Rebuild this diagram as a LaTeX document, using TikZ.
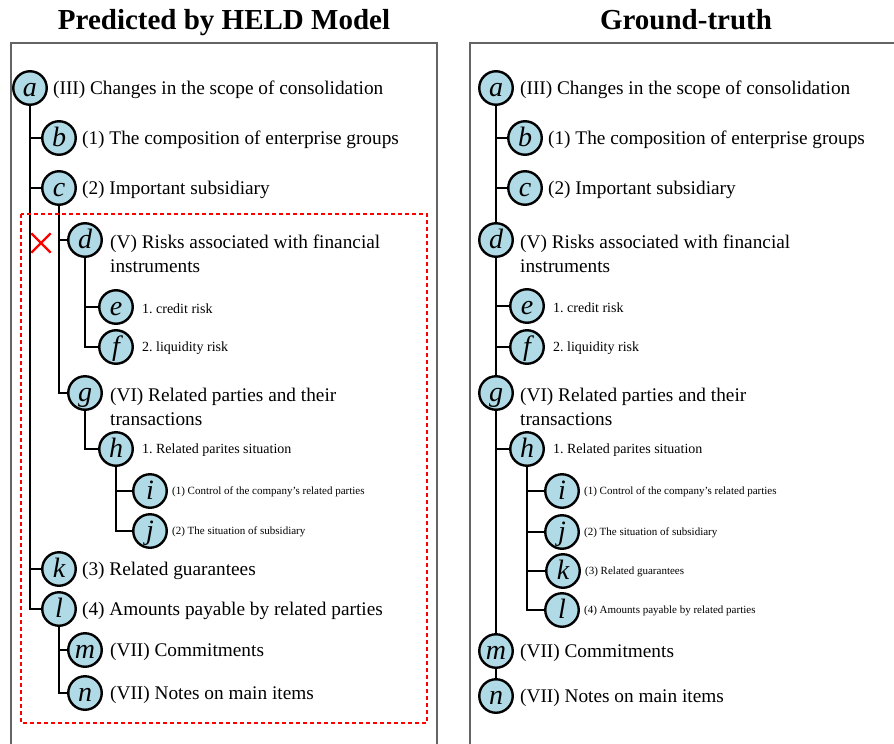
\documentclass[tikz,border=0pt]{standalone}
\usepackage{fontspec}
\setmainfont{Liberation Serif}
\usetikzlibrary{positioning,shapes.misc}
\definecolor{nodeblue}{RGB}{176,219,230}
\definecolor{panelgray}{RGB}{100,100,100}
\frenchspacing

\begin{document}
\begin{tikzpicture}[x=1pt,y=-1pt,% pixel grid of the reference, y going down
    sec/.style={circle,draw=black,line width=2.4pt,fill=nodeblue,
      minimum size=33.5pt,inner sep=0pt,
      font=\fontsize{28}{28}\selectfont\itshape,
      text height=19pt,text depth=2pt},	% same baseline for every letter
    bigtxt/.style={inner sep=0pt,align=left,yshift=-2pt,font=\fontsize{19.3}{24}\selectfont},
    midtxt/.style={inner sep=0pt,yshift=-1.5pt,font=\fontsize{14}{16}\selectfont},
    smalltxt/.style={inner sep=0pt,yshift=-1pt,font=\fontsize{11}{13}\selectfont},
    title/.style={anchor=base,font=\fontsize{29}{29}\selectfont\bfseries},
    tree/.style={line width=2.6pt},
    panel/.style={draw=panelgray,line width=2pt}
  ]
  \clip (0,0) rectangle (894,744);
  \draw[panel] (11,43) rectangle (437,770);
  \draw[panel] (470,43) rectangle (902,770);
  \node[title] (tleft) at (224,29) {Predicted by HELD Model};
  \node[title] (tright) at (686,29) {Ground-truth};

  % predicted tree
  \node[sec] (La) at (30,88) {a};
  \node[sec] (Lb) at (59,138) {b};
  \node[sec] (Lc) at (59,188) {c};
  \node[sec] (Ld) at (85,240) {d};
  \node[sec] (Le) at (116,307) {e};
  \node[sec] (Lf) at (116,347) {f};
  \node[sec] (Lg) at (85,393) {g};
  \node[sec] (Lh) at (116,449) {h};
  \node[sec] (Li) at (150,491) {i};
  \node[sec] (Lj) at (150,531) {j};
  \node[sec] (Lk) at (59,569) {k};
  \node[sec] (Ll) at (59,609) {l};
  \node[sec] (Lm) at (85,650) {m};
  \node[sec] (Ln) at (85,693) {n};

  \node[bigtxt,right=5pt of La] (La-t) {(III) Changes in the scope of consolidation};
  \node[bigtxt,right=5pt of Lb] (Lb-t) {(1) The composition of enterprise groups};
  \node[bigtxt,right=5pt of Lc] (Lc-t) {(2) Important subsidiary};
  \node[bigtxt,right=7pt of Ld,yshift=-12pt] (Ld-t) {(V) Risks associated with financial\\instruments};
  \node[midtxt,right=8pt of Le] (Le-t) {1. credit risk};
  \node[midtxt,right=8pt of Lf] (Lf-t) {2. liquidity risk};
  \node[bigtxt,right=7pt of Lg,yshift=-12pt] (Lg-t) {(VI) Related parties and their\\transactions};
  \node[midtxt,right=8pt of Lh] (Lh-t) {1. Related parites situation};
  \node[smalltxt,right=4pt of Li] (Li-t) {(1) Control of the company's related parties};
  \node[smalltxt,right=4pt of Lj] (Lj-t) {(2) The situation of subsidiary};
  \node[bigtxt,right=5pt of Lk] (Lk-t) {(3) Related guarantees};
  \node[bigtxt,right=5pt of Ll] (Ll-t) {(4) Amounts payable by related parties};
  \node[bigtxt,right=7pt of Lm] (Lm-t) {(VII) Commitments};
  \node[bigtxt,right=7pt of Ln] (Ln-t) {(VII) Notes on main items};

  \draw[tree] (La.south) |- (Ll.west)
    (La.south |- Lb) -- (Lb.west) (La.south |- Lc) -- (Lc.west) (La.south |- Lk) -- (Lk.west);
  \draw[tree] (Lc.south) |- (Lg.west) (Lc.south |- Ld) -- (Ld.west);
  \draw[tree] (Ld.south) |- (Lf.west) (Ld.south |- Le) -- (Le.west);
  \draw[tree] (Lg.south) |- (Lh.west);
  \draw[tree] (Lh.south) |- (Lj.west) (Lh.south |- Li) -- (Li.west);
  \draw[tree] (Ll.south) |- (Ln.west) (Ll.south |- Lm) -- (Lm.west);

  % wrongly nested part
  \draw[red,line width=1.8pt,dash pattern=on 4pt off 3pt] (21,214) rectangle (427,723);
  \node[cross out,draw=red,line width=2.4pt,minimum size=17pt,inner sep=0pt] (miss) at (41,243) {};

  % ground-truth tree
  \node[sec] (Ra) at (496,88) {a};
  \node[sec] (Rb) at (525,138) {b};
  \node[sec] (Rc) at (525,188) {c};
  \node[sec] (Rd) at (496,240) {d};
  \node[sec] (Re) at (527,306) {e};
  \node[sec] (Rf) at (527,347) {f};
  \node[sec] (Rg) at (496,393) {g};
  \node[sec] (Rh) at (527,449) {h};
  \node[sec] (Ri) at (562,491) {i};
  \node[sec] (Rj) at (562,532) {j};
  \node[sec] (Rk) at (563,571) {k};
  \node[sec] (Rl) at (562,610) {l};
  \node[sec] (Rm) at (496,651) {m};
  \node[sec] (Rn) at (496,696) {n};

  \node[bigtxt,right=6pt of Ra] (Ra-t) {(III) Changes in the scope of consolidation};
  \node[bigtxt,right=5pt of Rb] (Rb-t) {(1) The composition of enterprise groups};
  \node[bigtxt,right=5pt of Rc] (Rc-t) {(2) Important subsidiary};
  \node[bigtxt,right=6pt of Rd,yshift=-12pt] (Rd-t) {(V) Risks associated with financial\\instruments};
  \node[midtxt,right=8pt of Re] (Re-t) {1. credit risk};
  \node[midtxt,right=8pt of Rf] (Rf-t) {2. liquidity risk};
  \node[bigtxt,right=6pt of Rg,yshift=-12pt] (Rg-t) {(VI) Related parties and their\\transactions};
  \node[midtxt,right=8pt of Rh] (Rh-t) {1. Related parites situation};
  \node[smalltxt,right=4pt of Ri] (Ri-t) {(1) Control of the company's related parties};
  \node[smalltxt,right=4pt of Rj] (Rj-t) {(2) The situation of subsidiary};
  \node[smalltxt,right=4pt of Rk] (Rk-t) {(3) Related guarantees};
  \node[smalltxt,right=4pt of Rl] (Rl-t) {(4) Amounts payable by related parties};
  \node[bigtxt,right=6pt of Rm] (Rm-t) {(VII) Commitments};
  \node[bigtxt,right=6pt of Rn] (Rn-t) {(VII) Notes on main items};

  \draw[tree] (Ra) -- (Rd) (Rd) -- (Rg) (Rg) -- (Rm) (Rm) -- (Rn);
  \draw[tree] (Ra.south |- Rb) -- (Rb.west) (Ra.south |- Rc) -- (Rc.west);
  \draw[tree] (Rd.south |- Re) -- (Re.west) (Rd.south |- Rf) -- (Rf.west)
    (Rg.south |- Rh) -- (Rh.west);
  \draw[tree] (Rh.south) |- (Rl.west) (Rh.south |- Ri) -- (Ri.west)
    (Rh.south |- Rj) -- (Rj.west) (Rh.south |- Rk) -- (Rk.west);
\end{tikzpicture}
\end{document}
